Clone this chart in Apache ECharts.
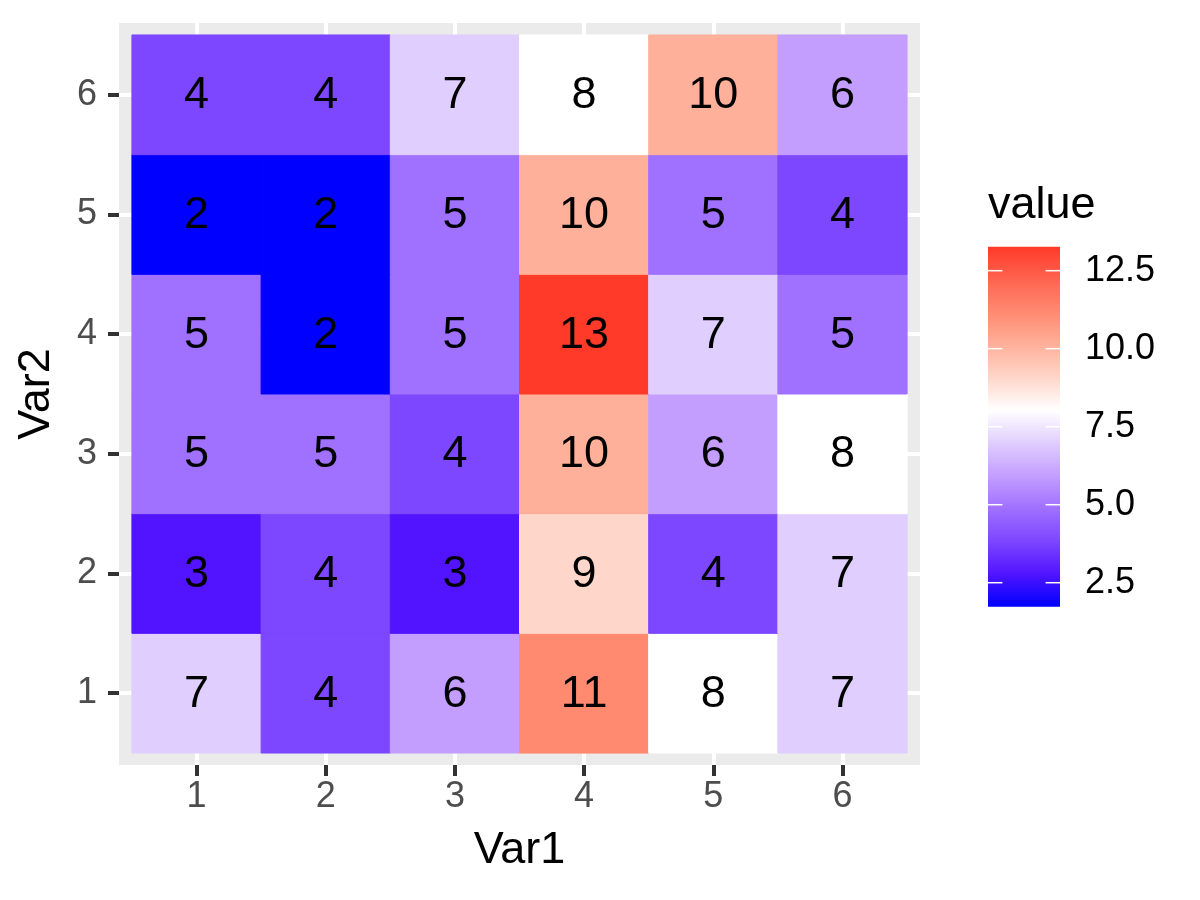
<!DOCTYPE html>
<html>
<head>
<meta charset="utf-8">
<script src="https://cdn.jsdelivr.net/npm/echarts@6/dist/echarts.min.js"></script>
<style>
html,body{margin:0;padding:0;background:#fff;}
#chart{width:1200px;height:900px;}
</style>
</head>
<body>
<div id="chart"></div>
<script>
// ---- data ----
const var1 = [1, 2, 3, 4, 5, 6];
const var2 = [1, 2, 3, 4, 5, 6];
// rows indexed by Var2 (1..6), columns by Var1 (1..6)
const valuesVar2_1 = [7, 4, 6, 11, 8, 7];
const valuesVar2_2 = [3, 4, 3, 9, 4, 7];
const valuesVar2_3 = [5, 5, 4, 10, 6, 8];
const valuesVar2_4 = [5, 2, 5, 13, 7, 5];
const valuesVar2_5 = [2, 2, 5, 10, 5, 4];
const valuesVar2_6 = [4, 4, 7, 8, 10, 6];
const valueRows = [valuesVar2_1, valuesVar2_2, valuesVar2_3, valuesVar2_4, valuesVar2_5, valuesVar2_6];
const legendTicks = [2.5, 5.0, 7.5, 10.0, 12.5];
const valueMin = 2;
const valueMax = 13;
// colour scale stops (value -> colour)
const paletteValues = [2, 3, 4, 5, 6, 7, 8, 9, 10, 11, 12, 13];
const paletteColors = ['#0000FF', '#5214FF', '#7D46FF', '#A070FF', '#C49EFF', '#E0CEFF',
                       '#FFFFFF', '#FFD6CA', '#FFB09A', '#FF8A70', '#FF6450', '#FF3A28'];

// ---- build ----
const tileData = [];
var2.forEach((yv, j) => {
  var1.forEach((xv, i) => {
    tileData.push([xv, yv, valueRows[j][i]]);
  });
});

// colourbar axis range: the bar reaches a little past the scale limits
const cbMin = 1.731;
const cbMax = 13.269;

const FONT = 'Liberation Sans, Arial, Helvetica, sans-serif';

const chart = echarts.init(document.getElementById('chart'), null, {renderer: 'canvas'});

const option = {
  animation: false,
  backgroundColor: '#FFFFFF',
  textStyle: {fontFamily: FONT},
  grid: [
    {left: 119, top: 23, width: 801, height: 742, show: true, backgroundColor: '#EBEBEB', borderWidth: 0},
    {left: 988, top: 246.7, width: 72, height: 360, show: false}
  ],
  visualMap: {
    type: 'continuous', show: false, seriesIndex: 0, dimension: 2,
    min: valueMin, max: valueMax,
    inRange: {color: paletteColors}
  },
  xAxis: [
    {
      gridIndex: 0, type: 'value', min: 0.4, max: 6.6,
      axisLine: {show: false},
      axisTick: {show: true, customValues: var1, length: 11, lineStyle: {color: '#333333', width: 4}},
      axisLabel: {customValues: var1, margin: 14, color: '#4D4D4D', fontSize: 36, fontFamily: FONT},
      splitLine: {show: true, lineStyle: {color: '#FFFFFF', width: 4}},
      name: 'Var1', nameLocation: 'middle', nameGap: 63,
      nameTextStyle: {fontSize: 45, color: '#000000', fontFamily: FONT}
    },
    {gridIndex: 1, type: 'value', min: 0, max: 1, show: false}
  ],
  yAxis: [
    {
      gridIndex: 0, type: 'value', min: 0.4, max: 6.6,
      axisLine: {show: false},
      axisTick: {show: true, customValues: var2, length: 11, lineStyle: {color: '#333333', width: 4}},
      axisLabel: {customValues: var2, margin: 22, color: '#4D4D4D', fontSize: 36, fontFamily: FONT},
      splitLine: {show: true, lineStyle: {color: '#FFFFFF', width: 4}},
      name: 'Var2', nameLocation: 'middle', nameGap: 60,
      nameTextStyle: {fontSize: 45, color: '#000000', fontFamily: FONT}
    },
    {
      gridIndex: 1, type: 'value', position: 'right', min: cbMin, max: cbMax, z: 10,
      axisLine: {show: false},
      axisTick: {show: false, customValues: legendTicks},
      axisLabel: {customValues: legendTicks, margin: 25, color: '#000000', fontSize: 36, fontFamily: FONT,
                  formatter: v => Number(v).toFixed(1)},
      splitLine: {show: false}
    },
    {
      gridIndex: 1, type: 'value', position: 'left', min: cbMin, max: cbMax, z: 10,
      axisLine: {show: false},
      axisTick: {show: false},
      axisLabel: {show: false},
      splitLine: {show: false},
      name: 'value', nameLocation: 'end', nameGap: 19,
      nameTextStyle: {fontSize: 45, color: '#000000', fontFamily: FONT, align: 'left', verticalAlign: 'bottom'}
    }
  ],
  series: [
    {
      type: 'custom',
      xAxisIndex: 0, yAxisIndex: 0,
      data: tileData,
      encode: {x: 0, y: 1},
      renderItem: function (params, api) {
        const x = api.value(0), y = api.value(1), v = api.value(2);
        const p0 = api.coord([x - 0.5, y + 0.5]);
        const p1 = api.coord([x + 0.5, y - 0.5]);
        const col = api.visual('color');
        return {
          type: 'group',
          children: [
            {type: 'rect', shape: {x: p0[0], y: p0[1], width: p1[0] - p0[0], height: p1[1] - p0[1]},
             style: {fill: col, stroke: col, lineWidth: 1}},
            {type: 'text', z2: 10, style: {text: String(v), x: (p0[0] + p1[0]) / 2, y: (p0[1] + p1[1]) / 2 + 1,
              align: 'center', verticalAlign: 'middle', fontSize: 45, fontFamily: FONT, fill: '#000000'}}
          ]
        };
      }
    },
    {
      type: 'custom',
      xAxisIndex: 1, yAxisIndex: 1,
      data: [[0.5, (valueMin + valueMax) / 2]],
      encode: {x: 0, y: 1},
      renderItem: function (params, api) {
        const p0 = api.coord([0, cbMax]);
        const p1 = api.coord([1, cbMin]);
        const w = p1[0] - p0[0];
        const stops = paletteValues.map((v, k) => ({offset: (v - valueMin) / (valueMax - valueMin), color: paletteColors[k]}));
        const children = [{
          type: 'rect',
          shape: {x: p0[0], y: p0[1], width: w, height: p1[1] - p0[1]},
          style: {fill: {type: 'linear', x: 0, y: 1, x2: 0, y2: 0, colorStops: stops, global: false}}
        }];
        legendTicks.forEach(t => {
          const yy = api.coord([0, t])[1];
          children.push({type: 'line', shape: {x1: p0[0], y1: yy, x2: p0[0] + w / 5, y2: yy},
                         style: {stroke: '#FFFFFF', lineWidth: 1.5}});
          children.push({type: 'line', shape: {x1: p1[0] - w / 5, y1: yy, x2: p1[0], y2: yy},
                         style: {stroke: '#FFFFFF', lineWidth: 1.5}});
        });
        return {type: 'group', children: children};
      }
    }
  ]
};

chart.setOption(option);
</script>
</body>
</html>
